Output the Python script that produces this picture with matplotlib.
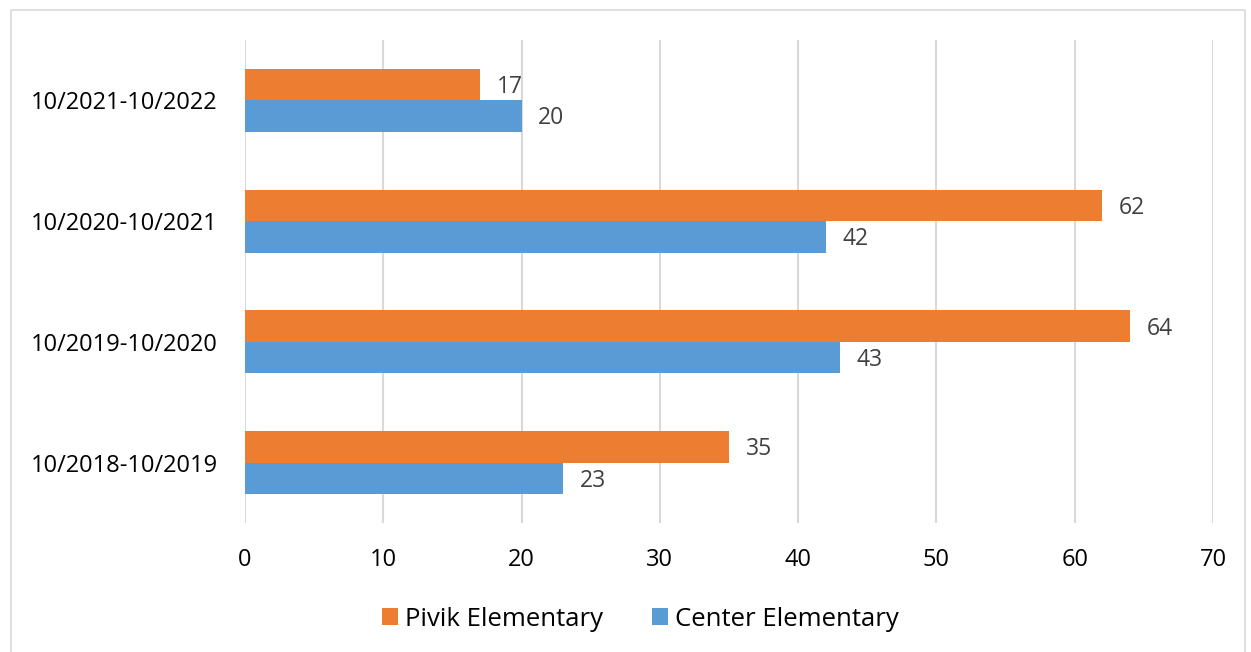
import matplotlib.pyplot as plt
import matplotlib.patches as mpatches
import numpy as np

plt.rcParams['font.family'] = ['Open Sans', 'DejaVu Sans']

periods = ["10/2018-10/2019", "10/2019-10/2020", "10/2020-10/2021", "10/2021-10/2022"]
pivik = [35, 64, 62, 17]
center = [23, 43, 42, 20]

orange = "#ED7D31"
blue = "#5B9BD5"

fig = plt.figure(figsize=(12.51, 6.52), dpi=100)
ax = fig.add_axes([245 / 1251, 1 - 523 / 652, 968 / 1251, 483 / 652])

y = np.arange(len(periods))
h = 0.26
b1 = ax.barh(y + h / 2, pivik, height=h, color=orange, label="Pivik Elementary", zorder=2)
b2 = ax.barh(y - h / 2, center, height=h, color=blue, label="Center Elementary", zorder=2)

for bars in (b1, b2):
    for bar in bars:
        w = bar.get_width()
        ax.annotate(str(w), (w, bar.get_y() + bar.get_height() / 2 - 0.02),
                    xytext=(12, 0), textcoords="offset points",
                    va="center", ha="left", fontsize=16.5, color="#404040")

ax.set_xlim(0, 70)
ax.set_ylim(-0.5, len(periods) - 0.5)
ax.set_xticks(range(0, 71, 10))
ax.set_yticks(y)
ax.set_yticklabels(periods)
ax.grid(axis="x", color="#D9D9D9", linewidth=1.5, zorder=0)
for s in ax.spines.values():
    s.set_visible(False)
ax.tick_params(length=0, labelsize=17, colors="black")
ax.tick_params(axis="x", pad=18)
ax.tick_params(axis="y", pad=19.5)

ax.legend(loc="center", bbox_to_anchor=(640 / 1251, 1 - 619 / 652), bbox_transform=fig.transFigure,
          ncol=2, frameon=False, fontsize=18.5, handlelength=0.65, handleheight=0.65,
          handletextpad=0.25, columnspacing=1.9)

fig.patches.append(mpatches.Rectangle((11 / 1251, -0.01), 1234 / 1251, 1 - 10 / 652 + 0.01,
                                      transform=fig.transFigure, fill=False,
                                      edgecolor="#D9D9D9", linewidth=1.2))

fig.savefig("out.png", dpi=100)
